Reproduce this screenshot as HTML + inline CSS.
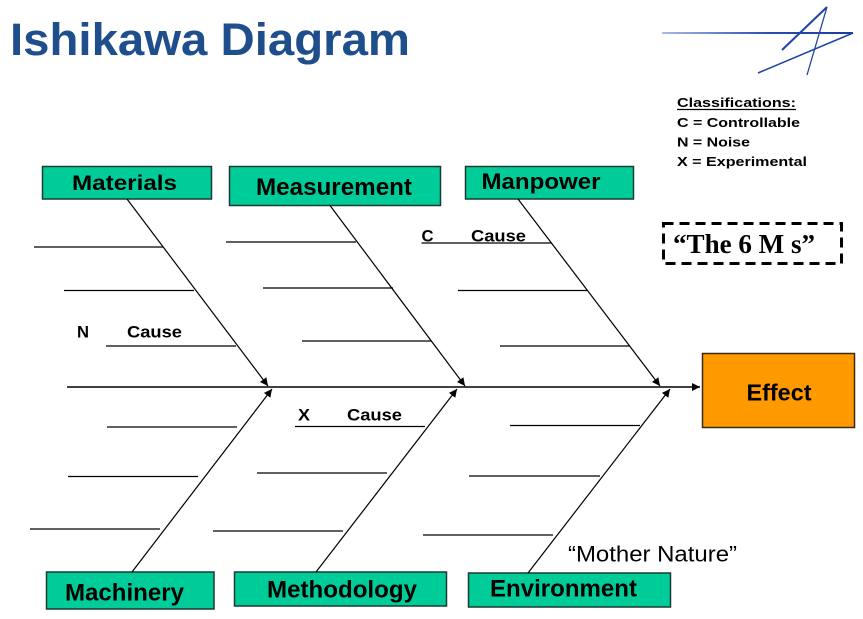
<!DOCTYPE html>
<html>
<head>
<meta charset="utf-8">
<style>
  html, body { margin:0; padding:0; background:#ffffff; }
  svg { display:block; }
  .b { font-family:"Liberation Sans", Arial, sans-serif; font-weight:bold; fill:#000; }
  .r { font-family:"Liberation Sans", Arial, sans-serif; fill:#000; }
</style>
</head>
<body>
<svg width="863" height="619" viewBox="0 0 863 619" xmlns="http://www.w3.org/2000/svg">
  <defs>
    <marker id="ah" viewBox="0 0 10 10" refX="10" refY="5" markerWidth="10" markerHeight="8" markerUnits="userSpaceOnUse" orient="auto">
      <path d="M0,0 L10,5 L0,10 z" fill="#000"/>
    </marker>
    <linearGradient id="lg" gradientUnits="userSpaceOnUse" x1="662" y1="33" x2="853" y2="33">
      <stop offset="0" stop-color="#a9bbe3"/>
      <stop offset="0.55" stop-color="#2a4fae"/>
      <stop offset="1" stop-color="#1a3c9c"/>
    </linearGradient>
  </defs>

  <!-- Title -->
  <text x="10" y="55" class="b" font-size="45" style="fill:#1f4e8c" textLength="400" lengthAdjust="spacingAndGlyphs">Ishikawa Diagram</text>

  <!-- Logo -->
  <line x1="662" y1="33" x2="853" y2="33" stroke="url(#lg)" stroke-width="2"/>
  <line x1="827" y1="7" x2="782" y2="50" stroke="#1f44a6" stroke-width="2"/>
  <line x1="827" y1="7" x2="807" y2="75" stroke="#1f44a6" stroke-width="1.3"/>
  <line x1="853" y1="33" x2="758" y2="73" stroke="#1f44a6" stroke-width="1.6"/>

  <!-- Classifications -->
  <text x="677" y="107" class="b" font-size="13" textLength="119" lengthAdjust="spacingAndGlyphs">Classifications:</text>
  <line x1="677" y1="109.5" x2="796" y2="109.5" stroke="#000" stroke-width="1.2"/>
  <text x="677" y="127" class="b" font-size="13" textLength="123" lengthAdjust="spacingAndGlyphs">C = Controllable</text>
  <text x="677" y="146.5" class="b" font-size="13" textLength="73" lengthAdjust="spacingAndGlyphs">N = Noise</text>
  <text x="677" y="166" class="b" font-size="13" textLength="130" lengthAdjust="spacingAndGlyphs">X = Experimental</text>

  <!-- The 6 M s dashed box -->
  <rect x="663.5" y="223.5" width="178" height="40" fill="none" stroke="#000" stroke-width="3" stroke-dasharray="10,6"/>
  <text x="673" y="253" font-family="'Liberation Serif', 'Times New Roman', serif" font-weight="bold" font-size="27" textLength="142" lengthAdjust="spacingAndGlyphs">“The 6 M s”</text>

  <!-- Top boxes -->
  <rect x="42.5" y="166.5" width="169" height="32.5" fill="#00cc99" stroke="#1c3a30" stroke-width="1.5"/>
  <text x="72" y="190" class="b" font-size="21" textLength="105" lengthAdjust="spacingAndGlyphs">Materials</text>

  <rect x="229.5" y="166.5" width="211" height="39" fill="#00cc99" stroke="#1c3a30" stroke-width="1.5"/>
  <text x="256" y="195" class="b" font-size="24" textLength="156" lengthAdjust="spacingAndGlyphs">Measurement</text>

  <rect x="465.5" y="166.5" width="168" height="32.5" fill="#00cc99" stroke="#1c3a30" stroke-width="1.5"/>
  <text x="481.5" y="189" class="b" font-size="22" textLength="119" lengthAdjust="spacingAndGlyphs">Manpower</text>

  <!-- Bottom boxes -->
  <rect x="46.5" y="572" width="167.5" height="37" fill="#00cc99" stroke="#1c3a30" stroke-width="1.5"/>
  <text x="65" y="600.5" class="b" font-size="24" textLength="119" lengthAdjust="spacingAndGlyphs">Machinery</text>

  <rect x="234.5" y="572" width="212" height="34" fill="#00cc99" stroke="#1c3a30" stroke-width="1.5"/>
  <text x="267" y="597.5" class="b" font-size="24" textLength="150" lengthAdjust="spacingAndGlyphs">Methodology</text>

  <rect x="468.5" y="573" width="202" height="34" fill="#00cc99" stroke="#1c3a30" stroke-width="1.5"/>
  <text x="490" y="596.5" class="b" font-size="24" textLength="147" lengthAdjust="spacingAndGlyphs">Environment</text>

  <!-- Effect box -->
  <rect x="702.5" y="353.5" width="152" height="74" fill="#ff9900" stroke="#3a2a10" stroke-width="1.5"/>
  <text x="746.5" y="400.5" class="b" font-size="23" textLength="65" lengthAdjust="spacingAndGlyphs">Effect</text>

  <!-- Spine -->
  <line x1="67" y1="387" x2="700" y2="387" stroke="#000" stroke-width="1.4" marker-end="url(#ah)"/>

  <!-- Top bones -->
  <line x1="127" y1="199" x2="268" y2="386" stroke="#000" stroke-width="1.2" marker-end="url(#ah)"/>
  <line x1="330" y1="205.5" x2="465" y2="386" stroke="#000" stroke-width="1.2" marker-end="url(#ah)"/>
  <line x1="518" y1="199" x2="660" y2="386" stroke="#000" stroke-width="1.2" marker-end="url(#ah)"/>

  <!-- Bottom bones -->
  <line x1="132" y1="572" x2="272" y2="389" stroke="#000" stroke-width="1.2" marker-end="url(#ah)"/>
  <line x1="316" y1="572" x2="457" y2="389" stroke="#000" stroke-width="1.2" marker-end="url(#ah)"/>
  <line x1="528" y1="573" x2="670" y2="389" stroke="#000" stroke-width="1.2" marker-end="url(#ah)"/>

  <!-- Ribs -->
  <g stroke="#000" stroke-width="1.3">
    <line x1="34" y1="247" x2="163" y2="247"/>
    <line x1="64" y1="290.5" x2="194" y2="290.5"/>
    <line x1="106" y1="346" x2="236" y2="346"/>
    <line x1="226" y1="242" x2="356" y2="242"/>
    <line x1="263" y1="288" x2="393" y2="288"/>
    <line x1="302" y1="341" x2="431" y2="341"/>
    <line x1="421.5" y1="243" x2="551.5" y2="243"/>
    <line x1="458" y1="290.5" x2="588" y2="290.5"/>
    <line x1="500" y1="346" x2="630" y2="346"/>
    <line x1="107" y1="427" x2="237" y2="427"/>
    <line x1="68" y1="476.5" x2="198" y2="476.5"/>
    <line x1="30" y1="529" x2="160" y2="529"/>
    <line x1="295" y1="426.5" x2="425" y2="426.5"/>
    <line x1="257" y1="473" x2="387" y2="473"/>
    <line x1="213" y1="531" x2="343" y2="531"/>
    <line x1="510" y1="425.5" x2="640" y2="425.5"/>
    <line x1="469" y1="476" x2="600" y2="476"/>
    <line x1="423" y1="535" x2="553" y2="535"/>
  </g>

  <!-- Cause labels -->
  <text x="77" y="337.5" class="b" font-size="17" textLength="12" lengthAdjust="spacingAndGlyphs">N</text>
  <text x="127" y="337.5" class="b" font-size="17" textLength="55" lengthAdjust="spacingAndGlyphs">Cause</text>

  <text x="421.5" y="241.5" class="b" font-size="17" textLength="12" lengthAdjust="spacingAndGlyphs">C</text>
  <text x="471" y="241.5" class="b" font-size="17" textLength="55" lengthAdjust="spacingAndGlyphs">Cause</text>

  <text x="298" y="420.5" class="b" font-size="17" textLength="12" lengthAdjust="spacingAndGlyphs">X</text>
  <text x="347" y="420.5" class="b" font-size="17" textLength="55" lengthAdjust="spacingAndGlyphs">Cause</text>

  <!-- Mother Nature -->
  <text x="568" y="561.5" class="r" font-size="22" textLength="169" lengthAdjust="spacingAndGlyphs">“Mother Nature”</text>
</svg>
</body>
</html>
